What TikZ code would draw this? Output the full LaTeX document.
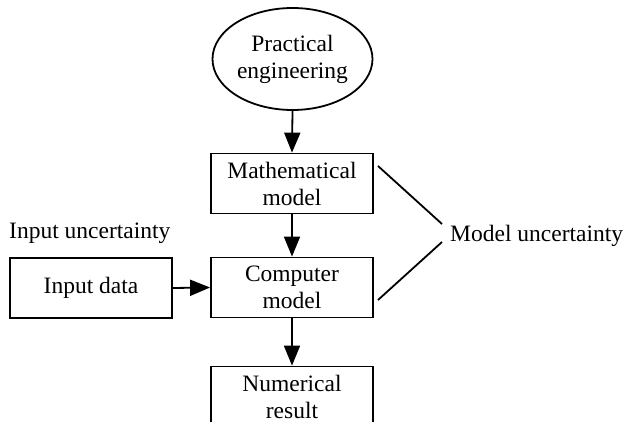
\documentclass[tikz,border=0pt]{standalone}
\usepackage{fontspec}
\setmainfont{Liberation Serif}
\usetikzlibrary{shapes.geometric,arrows.meta}
\begin{document}
\begin{tikzpicture}[x=1pt,y=-1pt,
  every node/.style={font=\fontsize{23.5}{27}\selectfont},
  box/.style={draw,line width=1.8pt,minimum width=162pt,minimum height=60pt,inner sep=0pt,align=center},
  oval/.style={draw,line width=1.8pt,ellipse,minimum width=160pt,minimum height=102pt,inner sep=0pt,align=center},
  arr/.style={line width=1.8pt,-{Triangle[length=20pt,width=16pt]}},
  ln/.style={line width=1.8pt}]
\useasboundingbox (0,0) rectangle (627,422);
\clip (0,0) rectangle (627,422);
\fill[white] (0,0) rectangle (627,422);
\node[oval] (pe) at (292.5,59) {Practical\\engineering};
\node[box] (mm) at (292,183.5) {Mathematical\\model};
\node[box] (cm) at (292,287.5) {Computer\\model};
\node[box] (nr) at (292,396.5) {Numerical\\result};
\node[box] (id) at (91,288) {Input data};
\node[anchor=base west,inner sep=0pt] (iu) at (9,239) {Input uncertainty};
\node[anchor=base west,inner sep=0pt] (mu) at (450,242) {Model uncertainty};
\coordinate (a1) at (378,166);
\coordinate (a2) at (442,224);
\coordinate (b1) at (378,300);
\coordinate (b2) at (442,242);
\draw[arr] (pe.south) -- (mm.north);
\draw[arr] (mm.south) -- (cm.north);
\draw[arr] (cm.south) -- (nr.north);
\draw[arr] (id.east) -- (cm.west);
\draw[ln] (a1) -- (a2);
\draw[ln] (b1) -- (b2);
\end{tikzpicture}
\end{document}
